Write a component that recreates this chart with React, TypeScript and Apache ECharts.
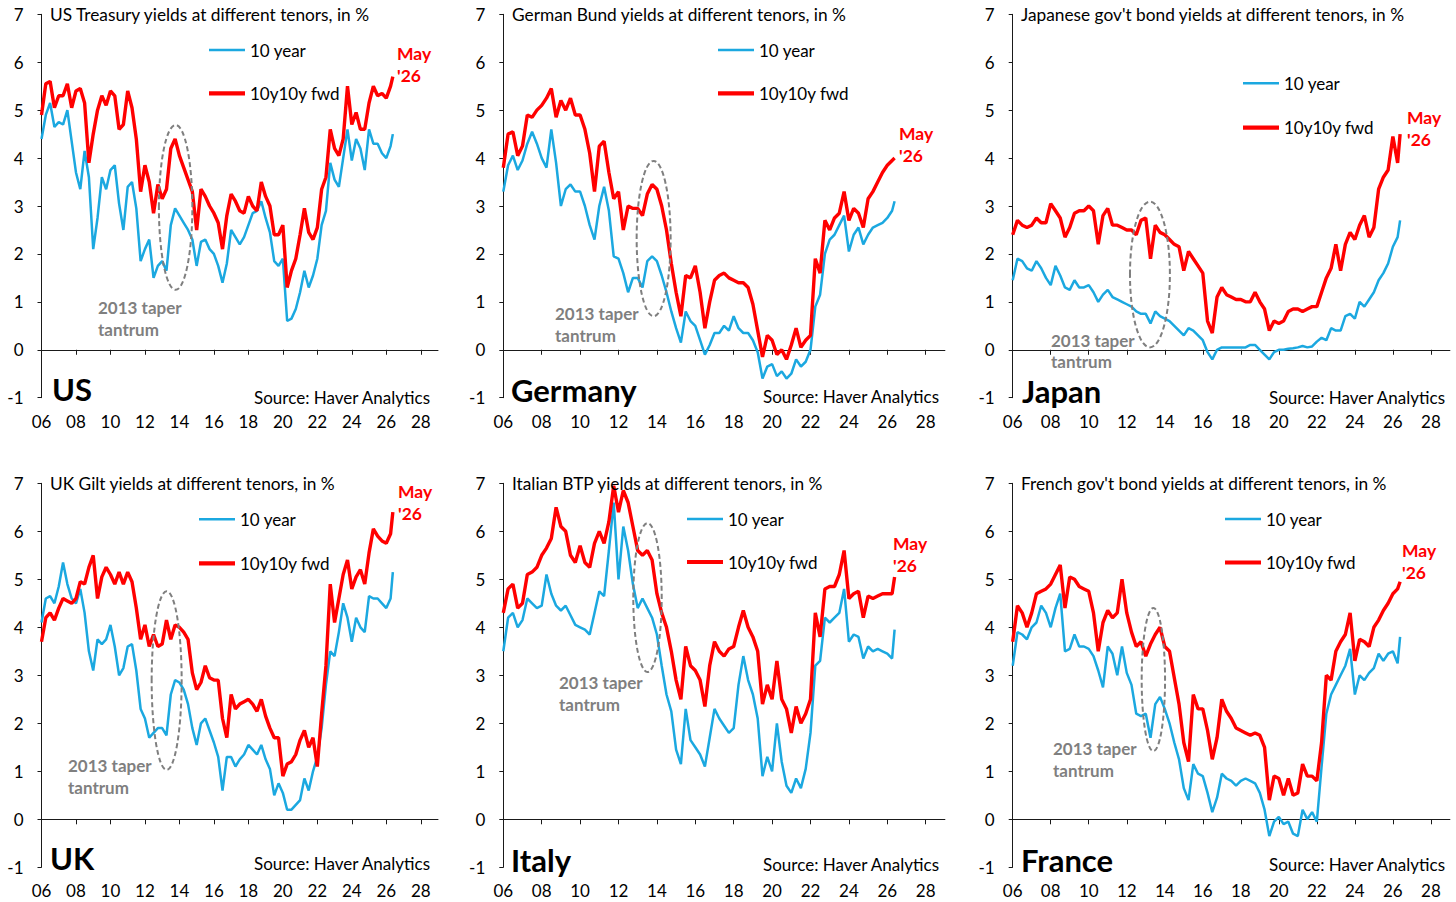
import React, { useEffect, useRef } from "react";
import * as echarts from "echarts";

// ---------- time axis (quarterly observations, last one = May 2026) ----------
const DATES: number[] = [];
for (let i = 0; i < 82; i++) DATES.push(2006 + i * 0.25);
DATES.push(2026.38);

const X_TICKS = [2006, 2008, 2010, 2012, 2014, 2016, 2018, 2020, 2022, 2024, 2026, 2028];
const X_MIN = 2006;
const X_MAX = 2029;
const Y_MIN = -1;
const Y_MAX = 7;

const SERIES_NAMES = ["10 year", "10y10y fwd"];

// ---------- US ----------
const US_10Y = [
  4.4, 4.9, 5.15, 4.65,
  4.75, 4.7, 5.0, 4.35,
  3.7, 3.35, 4.15, 3.6,
  2.1, 2.75, 3.6, 3.35,
  3.75, 3.85, 3.05, 2.5,
  3.4, 3.5, 2.95, 1.85,
  2.1, 2.3, 1.5, 1.75,
  1.85, 1.65, 2.6, 2.95,
  2.8, 2.65, 2.5, 2.3,
  1.75, 2.25, 2.3, 2.1,
  2.0, 1.75, 1.4, 1.8,
  2.5, 2.35, 2.2, 2.35,
  2.6, 2.85, 2.9, 3.1,
  2.75, 2.45, 1.85, 1.75,
  1.9, 0.6, 0.65, 0.85,
  1.2, 1.65, 1.3, 1.55,
  1.9, 2.6, 2.9, 3.9,
  3.55, 3.4, 4.0, 4.6,
  3.95, 4.4, 4.2, 3.75,
  4.6, 4.3, 4.3, 4.1,
  4.0, 4.25, 4.5,
];
const US_FWD = [
  4.9, 5.55, 5.6, 5.05,
  5.3, 5.3, 5.55, 5.05,
  5.4, 5.45, 5.15, 3.9,
  4.5, 5.0, 5.3, 5.1,
  5.4, 5.3, 4.6, 4.7,
  5.4, 5.05, 4.4, 3.3,
  3.85, 3.5, 2.85, 3.45,
  3.15, 3.35, 4.2, 4.4,
  4.05, 3.8, 3.55, 3.3,
  2.5, 3.35, 3.2, 3.0,
  2.85, 2.65, 2.1, 2.8,
  3.25, 3.1, 2.9, 2.85,
  3.2, 3.0, 2.9, 3.5,
  3.2, 3.0, 2.4, 2.4,
  2.6, 1.3, 1.65, 1.9,
  2.4, 2.95, 2.45, 2.3,
  2.55, 3.35, 3.6, 4.6,
  4.2, 4.05, 4.4, 5.5,
  4.7, 4.95, 4.6, 4.6,
  5.15, 5.5, 5.3, 5.35,
  5.25, 5.5, 5.7,
];

// ---------- Germany ----------
const DE_10Y = [
  3.3, 3.85, 4.05, 3.75,
  3.95, 4.3, 4.55, 4.3,
  4.0, 3.8, 4.6, 3.9,
  3.0, 3.35, 3.45, 3.3,
  3.3, 3.0, 2.6, 2.3,
  3.0, 3.4, 2.9, 1.95,
  1.9, 1.6, 1.2, 1.5,
  1.5, 1.3, 1.85, 1.95,
  1.85, 1.55, 1.2, 0.8,
  0.45, 0.15, 0.8, 0.6,
  0.5, 0.2, -0.1, 0.1,
  0.35, 0.35, 0.5, 0.4,
  0.7, 0.45, 0.35, 0.35,
  0.2, -0.05, -0.6, -0.35,
  -0.3, -0.55, -0.45, -0.6,
  -0.5, -0.2, -0.35, -0.25,
  0.0, 0.9, 1.15, 2.0,
  2.3, 2.4, 2.6, 2.8,
  2.05, 2.4, 2.55, 2.2,
  2.4, 2.55, 2.6, 2.65,
  2.75, 2.9, 3.1,
];
const DE_FWD = [
  3.8, 4.5, 4.55, 4.05,
  4.25, 4.9, 4.85, 5.0,
  5.1, 5.25, 5.45, 4.85,
  5.2, 5.0, 5.25, 4.9,
  4.9, 4.6, 4.1, 3.3,
  4.25, 4.35, 3.7, 3.15,
  3.3, 2.5, 3.0, 2.95,
  2.95, 2.8, 3.25, 3.45,
  3.35, 3.0, 2.5, 1.8,
  1.2, 0.7, 1.55, 1.5,
  1.75, 1.2, 0.45, 1.0,
  1.45, 1.55, 1.6, 1.5,
  1.45, 1.4, 1.4, 1.3,
  0.95, 0.4, -0.15, 0.3,
  0.2, -0.1, 0.0, -0.2,
  0.1, 0.45, 0.05, 0.2,
  0.3, 1.9, 1.6, 2.7,
  2.5, 2.75, 2.85, 3.3,
  2.7, 2.95, 2.85, 2.55,
  3.15, 3.3, 3.5, 3.7,
  3.85, 3.95, 4.0,
];

// ---------- Japan ----------
const JP_10Y = [
  1.45, 1.9, 1.85, 1.7,
  1.65, 1.85, 1.7, 1.5,
  1.35, 1.75, 1.55, 1.3,
  1.25, 1.45, 1.3, 1.3,
  1.35, 1.2, 1.0, 1.15,
  1.25, 1.1, 1.05, 1.0,
  0.95, 0.9, 0.8, 0.75,
  0.75, 0.55, 0.8, 0.7,
  0.65, 0.6, 0.5, 0.4,
  0.3, 0.45, 0.4, 0.3,
  0.2, -0.05, -0.2, 0.0,
  0.05, 0.05, 0.05, 0.05,
  0.05, 0.05, 0.1, 0.1,
  0.0, -0.1, -0.2, -0.05,
  0.0, 0.0, 0.02, 0.03,
  0.05, 0.08, 0.05, 0.07,
  0.17, 0.25, 0.2, 0.45,
  0.4, 0.4, 0.7, 0.75,
  0.65, 1.0, 0.9, 1.05,
  1.2, 1.45, 1.6, 1.8,
  2.15, 2.35, 2.7,
];
const JP_FWD = [
  2.4, 2.7, 2.6, 2.55,
  2.6, 2.75, 2.65, 2.65,
  3.05, 2.9, 2.75, 2.35,
  2.55, 2.85, 2.9, 2.9,
  3.0, 2.9, 2.2, 2.8,
  2.95, 2.6, 2.6, 2.55,
  2.5, 2.5, 2.4, 2.7,
  2.75, 1.9, 2.6, 2.45,
  2.4, 2.3, 2.2, 2.15,
  1.65, 2.05, 1.9, 1.75,
  1.6, 0.6, 0.35, 1.1,
  1.3, 1.15, 1.1, 1.05,
  1.05, 1.0, 1.0, 1.2,
  1.0, 0.85, 0.4, 0.6,
  0.55, 0.6, 0.8, 0.85,
  0.85, 0.8, 0.85, 0.9,
  0.9, 1.2, 1.5, 1.7,
  2.2, 1.65, 2.2, 2.45,
  2.3, 2.6, 2.8, 2.35,
  2.55, 3.35, 3.6, 3.75,
  4.45, 3.9, 4.5,
];

// ---------- UK ----------
const UK_10Y = [
  4.1, 4.6, 4.65, 4.5,
  4.85, 5.35, 4.9, 4.6,
  4.5, 4.8, 4.3, 3.5,
  3.1, 3.75, 3.65, 3.75,
  4.05, 3.6, 3.0, 3.15,
  3.6, 3.65, 3.1, 2.3,
  2.1, 1.7, 1.8, 1.9,
  1.9, 1.75, 2.6, 2.9,
  2.85, 2.7, 2.4, 1.9,
  1.55, 2.0, 2.1, 1.85,
  1.6, 1.3, 0.6, 1.3,
  1.3, 1.1, 1.25, 1.35,
  1.55, 1.45, 1.35, 1.55,
  1.25, 1.05, 0.5, 0.75,
  0.55, 0.2, 0.2, 0.3,
  0.4, 0.85, 0.6, 1.0,
  1.3, 1.9, 2.8, 3.5,
  3.4, 3.9, 4.5, 4.2,
  3.7, 4.2, 4.0, 3.9,
  4.65, 4.6, 4.6, 4.5,
  4.4, 4.6, 5.15,
];
const UK_FWD = [
  3.7, 4.2, 4.3, 4.15,
  4.4, 4.6, 4.55, 4.5,
  4.6, 4.95, 4.9, 5.25,
  5.5, 4.6, 5.05, 5.25,
  5.1, 4.9, 5.15, 4.9,
  5.15, 4.95, 4.4, 3.75,
  4.05, 3.6, 3.85, 3.6,
  3.65, 4.15, 3.75, 4.05,
  4.0, 3.9, 3.75, 3.05,
  2.7, 2.85, 3.2, 2.95,
  2.9, 2.9, 2.1, 1.7,
  2.6, 2.3, 2.4, 2.45,
  2.5, 2.4, 2.25, 2.5,
  2.15, 1.9, 1.7, 1.7,
  0.9, 1.15, 1.2, 1.35,
  1.65, 1.85, 1.5, 1.7,
  1.1, 2.2, 3.2, 4.9,
  4.1, 4.6, 5.1, 5.4,
  4.8, 5.05, 5.2, 4.9,
  5.55, 6.05, 5.9, 5.8,
  5.75, 5.95, 6.4,
];

// ---------- Italy ----------
const IT_10Y = [
  3.5, 4.2, 4.3, 4.0,
  4.15, 4.6, 4.5, 4.4,
  4.45, 5.1, 4.7, 4.45,
  4.35, 4.45, 4.25, 4.05,
  4.0, 3.95, 3.85, 4.3,
  4.75, 4.65, 5.6, 6.6,
  5.0, 6.1, 5.6, 4.9,
  4.4, 4.6, 4.4, 4.2,
  3.85, 3.2, 2.6, 2.25,
  1.45, 1.15, 2.3, 1.65,
  1.5, 1.35, 1.1, 1.7,
  2.3, 2.1, 1.95, 1.8,
  1.9, 2.8, 3.4, 2.9,
  2.6, 2.1, 0.9, 1.3,
  1.0, 2.0, 1.2, 0.7,
  0.55, 0.85, 0.65, 1.05,
  1.8, 3.2, 3.3, 4.2,
  4.1, 4.2, 4.3, 4.8,
  3.7, 3.85, 3.8, 3.35,
  3.6, 3.5, 3.55, 3.5,
  3.45, 3.35, 3.95,
];
const IT_FWD = [
  4.3, 4.8, 4.9, 4.4,
  4.5, 5.1, 5.15, 5.25,
  5.5, 5.65, 5.85, 6.5,
  6.1, 6.0, 5.5, 5.35,
  5.7, 5.35, 5.25, 5.75,
  6.0, 5.75, 6.2, 6.95,
  6.4, 6.85, 6.6, 6.1,
  5.6, 5.5, 5.6, 5.4,
  4.7, 4.3, 4.0, 3.5,
  2.9, 2.5, 3.6, 3.2,
  3.1, 2.9, 2.35, 3.2,
  3.7, 3.5, 3.4, 3.55,
  3.6, 4.0, 4.35, 4.0,
  3.8, 3.5, 2.4, 2.8,
  2.5, 3.3, 2.5, 2.3,
  1.8, 2.35, 2.0, 2.2,
  2.5, 4.3, 3.8, 4.8,
  4.85, 4.85, 5.1, 5.6,
  4.6, 4.7, 4.75, 4.2,
  4.65, 4.6, 4.65, 4.7,
  4.7, 4.7, 5.05,
];

// ---------- France ----------
const FR_10Y = [
  3.2, 3.9, 3.85, 3.75,
  4.0, 4.1, 4.45, 4.3,
  4.0, 4.4, 4.7, 3.5,
  3.55, 3.85, 3.6, 3.6,
  3.55, 3.4, 3.1, 2.75,
  3.6, 3.45, 3.0, 3.6,
  3.05, 2.8, 2.2, 2.15,
  2.2, 1.7, 2.4, 2.55,
  2.3, 2.0, 1.6, 1.25,
  0.65, 0.4, 1.15, 0.95,
  0.9, 0.55, 0.15, 0.45,
  0.95, 0.85, 0.8, 0.7,
  0.8, 0.85, 0.8, 0.75,
  0.55, 0.2, -0.35, -0.05,
  0.05, -0.1, -0.05, -0.3,
  -0.35, 0.2, 0.0, 0.15,
  -0.05, 1.1, 2.2, 2.6,
  2.8, 3.0, 3.2, 3.55,
  2.6, 3.0, 2.9, 3.05,
  3.15, 3.45, 3.3, 3.45,
  3.5, 3.25, 3.8,
];
const FR_FWD = [
  3.7, 4.45, 4.3, 4.0,
  4.3, 4.7, 4.75, 4.8,
  4.9, 5.1, 5.3, 4.4,
  5.05, 5.0, 4.85, 4.8,
  4.75, 4.3, 3.5, 4.1,
  4.35, 4.2, 4.3, 5.0,
  4.3, 3.9, 3.6, 3.7,
  3.4, 3.65, 3.85, 4.0,
  3.6, 3.5, 2.95, 2.4,
  1.6, 1.2, 2.6, 2.3,
  2.3, 1.85, 1.25, 1.7,
  2.5, 2.25, 2.1, 1.9,
  1.85, 1.8, 1.75, 1.8,
  1.75, 1.5, 0.4, 0.9,
  0.85, 0.5, 0.85, 0.5,
  0.55, 1.15, 0.9, 0.9,
  0.8, 1.6, 3.0, 2.9,
  3.5, 3.7, 3.85, 4.3,
  3.3, 3.75, 3.7, 3.6,
  4.0, 4.15, 4.35, 4.5,
  4.7, 4.8, 4.95,
];

// ---------- texts ----------
const TITLES = [
  "US Treasury yields at different tenors, in %",
  "German Bund yields at different tenors, in %",
  "Japanese gov't bond yields at different tenors, in %",
  "UK Gilt yields at different tenors, in %",
  "Italian BTP yields at different tenors, in %",
  "French gov't bond yields at different tenors, in %",
];
const COUNTRIES = ["US", "Germany", "Japan", "UK", "Italy", "France"];
const TEN_YEAR = [US_10Y, DE_10Y, JP_10Y, UK_10Y, IT_10Y, FR_10Y];
const FORWARD = [US_FWD, DE_FWD, JP_FWD, UK_FWD, IT_FWD, FR_FWD];
// taper-tantrum ellipse in data units: [centre year, centre %, half-width years, half-height %]
const TANTRUM = [
  [2013.78, 2.97, 0.97, 1.72],
  [2013.83, 2.32, 0.885, 1.62],
  [2013.22, 1.57, 1.05, 1.52],
  [2013.26, 2.89, 0.87, 1.86],
  [2013.51, 4.62, 0.74, 1.55],
  [2013.4, 2.91, 0.615, 1.49],
];

// ---------- layout (pixels) ----------
const GRIDS = [
  { left: 41.5, top: 14.3, width: 396.5, height: 383.4 },
  { left: 503.3, top: 14.3, width: 441.6, height: 383.4 },
  { left: 1012.7, top: 14.3, width: 437.2, height: 383.4 },
  { left: 41.5, top: 483.3, width: 396.5, height: 384 },
  { left: 503.3, top: 483.3, width: 441.6, height: 384 },
  { left: 1012.7, top: 483.3, width: 437.2, height: 384 },
];
// legend: [icon left, first-row centre y, second-row centre y]
const LAYOUT = [
  { title: [50, 14.5], legend: [209, 50, 93.3], country: [52, 389], source: [430, 397], taper: [98, 307, 22], may: [397, 53] },
  { title: [512, 14.5], legend: [718, 50, 93.3], country: [511, 390], source: [939, 396], taper: [555, 313, 22], may: [899, 133] },
  { title: [1021, 14.5], legend: [1243, 83.3, 127.7], country: [1022, 391], source: [1445, 397], taper: [1051, 340, 21], may: [1407, 117] },
  { title: [50, 483.5], legend: [199, 519.3, 563.3], country: [50, 858], source: [430, 863], taper: [68, 765, 22], may: [398, 491] },
  { title: [512, 483.5], legend: [687, 519, 562], country: [511, 860], source: [939, 864], taper: [559, 682, 22], may: [893, 543] },
  { title: [1021, 483.5], legend: [1225, 519, 562.5], country: [1021, 860], source: [1445, 864], taper: [1053, 748, 22], may: [1402, 550] },
];

const FONT = "Lato, 'Noto Sans', sans-serif";
const BLUE = "#1ba8e0";
const RED = "#ff0000";
const GREY = "#7f7f7f";
const AXIS = "#1a1a1a";
const TXT = 17;

function txt(x: number, y: number, text: string, font: string, fill: string, align = "left") {
  return {
    type: "text",
    x,
    y,
    silent: true,
    z: 50,
    style: { text, font, fill, align, verticalAlign: "middle", textAlign: align, textVerticalAlign: "middle" },
  };
}

export default function App() {
  const ref = useRef<HTMLDivElement>(null);

  useEffect(() => {
    if (!ref.current) return;
    const chart = echarts.init(ref.current, null, { renderer: "svg" });

    const grid: any[] = [];
    const xAxis: any[] = [];
    const yAxis: any[] = [];
    const series: any[] = [];
    const legend: any[] = [];

    GRIDS.forEach((g, k) => {
      grid.push({ ...g, containLabel: false, outerBoundsMode: "none" });
      // labels axis (bottom)
      xAxis.push({
        type: "value",
        gridIndex: k,
        min: X_MIN,
        max: X_MAX,
        interval: 2,
        position: "bottom",
        axisLine: { show: false, onZero: false },
        axisTick: { show: false },
        splitLine: { show: false },
        axisLabel: {
          show: true,
          customValues: X_TICKS,
          margin: 15,
          fontSize: TXT,
          fontFamily: FONT,
          color: "#000",
          formatter: (v: number) => (v % 2 === 0 && v <= 2028 ? String(v).slice(2) : ""),
        },
      });
      // zero line axis
      xAxis.push({
        type: "value",
        gridIndex: k,
        min: X_MIN,
        max: X_MAX,
        interval: 2,
        position: "bottom",
        axisLine: { show: true, onZero: true, lineStyle: { color: AXIS, width: 1 } },
        axisTick: { show: true, length: 5, customValues: X_TICKS, lineStyle: { color: AXIS, width: 1 } },
        axisLabel: { show: false },
        splitLine: { show: false },
      });
      yAxis.push({
        type: "value",
        gridIndex: k,
        min: Y_MIN,
        max: Y_MAX,
        interval: 1,
        axisLine: { show: true, onZero: false, lineStyle: { color: AXIS, width: 1 } },
        axisTick: { show: true, length: 4, lineStyle: { color: AXIS, width: 1 } },
        axisLabel: { margin: 18, fontSize: TXT, fontFamily: FONT, color: "#000" },
        splitLine: { show: false },
      });
      series.push({
        type: "line",
        name: SERIES_NAMES[0],
        xAxisIndex: 2 * k,
        yAxisIndex: k,
        symbol: "none",
        data: DATES.map((d, i) => [d, TEN_YEAR[k][i]]),
        lineStyle: { color: BLUE, width: 2.5 },
        itemStyle: { color: BLUE },
        z: 3,
      });
      series.push({
        type: "line",
        name: SERIES_NAMES[1],
        xAxisIndex: 2 * k,
        yAxisIndex: k,
        symbol: "none",
        data: DATES.map((d, i) => [d, FORWARD[k][i]]),
        lineStyle: { color: RED, width: 3.4 },
        itemStyle: { color: RED },
        z: 4,
      });
      const L = LAYOUT[k];
      const rowH = 17;
      legend.push({
        orient: "vertical",
        left: L.legend[0],
        top: L.legend[1] - rowH / 2,
        itemGap: L.legend[2] - L.legend[1] - rowH,
        itemWidth: 36,
        itemHeight: 6,
        symbolKeepAspect: true,
        padding: 0,
        selectedMode: false,
        data: [
          { name: SERIES_NAMES[0], icon: "path://M0 0H36V2.6H0Z" },
          { name: SERIES_NAMES[1], icon: "path://M0 0H36V4.2H0Z" },
        ],
        textStyle: { fontSize: TXT, fontFamily: FONT, color: "#000" },
      });
    });

    chart.setOption({
      animation: false,
      backgroundColor: "#ffffff",
      textStyle: { fontFamily: FONT },
      grid,
      xAxis,
      yAxis,
      series,
      legend,
    });

    const graphic: any[] = [];
    GRIDS.forEach((_, k) => {
      const L = LAYOUT[k];
      graphic.push(txt(L.title[0], L.title[1], TITLES[k], `17.3px ${FONT}`, "#000"));
      graphic.push(txt(L.country[0], L.country[1], COUNTRIES[k], `bold 31px ${FONT}`, "#000"));
      graphic.push(txt(L.source[0], L.source[1], "Source: Haver Analytics", `${TXT}px ${FONT}`, "#000", "right"));
      graphic.push(txt(L.taper[0], L.taper[1], "2013 taper", `bold ${TXT}px ${FONT}`, GREY));
      graphic.push(txt(L.taper[0], L.taper[1] + L.taper[2], "tantrum", `bold ${TXT}px ${FONT}`, GREY));
      graphic.push(txt(L.may[0], L.may[1], "May", `bold 17.5px ${FONT}`, RED));
      graphic.push(txt(L.may[0], L.may[1] + 22, "'26", `bold 17.5px ${FONT}`, RED));
      const [cx, cy, rx, ry] = TANTRUM[k];
      const c = chart.convertToPixel({ seriesIndex: 2 * k }, [cx, cy]) as number[];
      const e = chart.convertToPixel({ seriesIndex: 2 * k }, [cx + rx, cy + ry]) as number[];
      if (c && e) {
        graphic.push({
          type: "ellipse",
          silent: true,
          z: 60,
          shape: { cx: c[0], cy: c[1], rx: Math.abs(e[0] - c[0]), ry: Math.abs(e[1] - c[1]) },
          style: { fill: "none", stroke: GREY, lineWidth: 2, lineDash: [5, 3] },
        });
      }
    });
    chart.setOption({ graphic });

    return () => chart.dispose();
  }, []);

  return (
    <div
      ref={ref}
      style={{ position: "absolute", left: 0, top: 0, width: 1456, height: 902, background: "#fff" }}
    />
  );
}
